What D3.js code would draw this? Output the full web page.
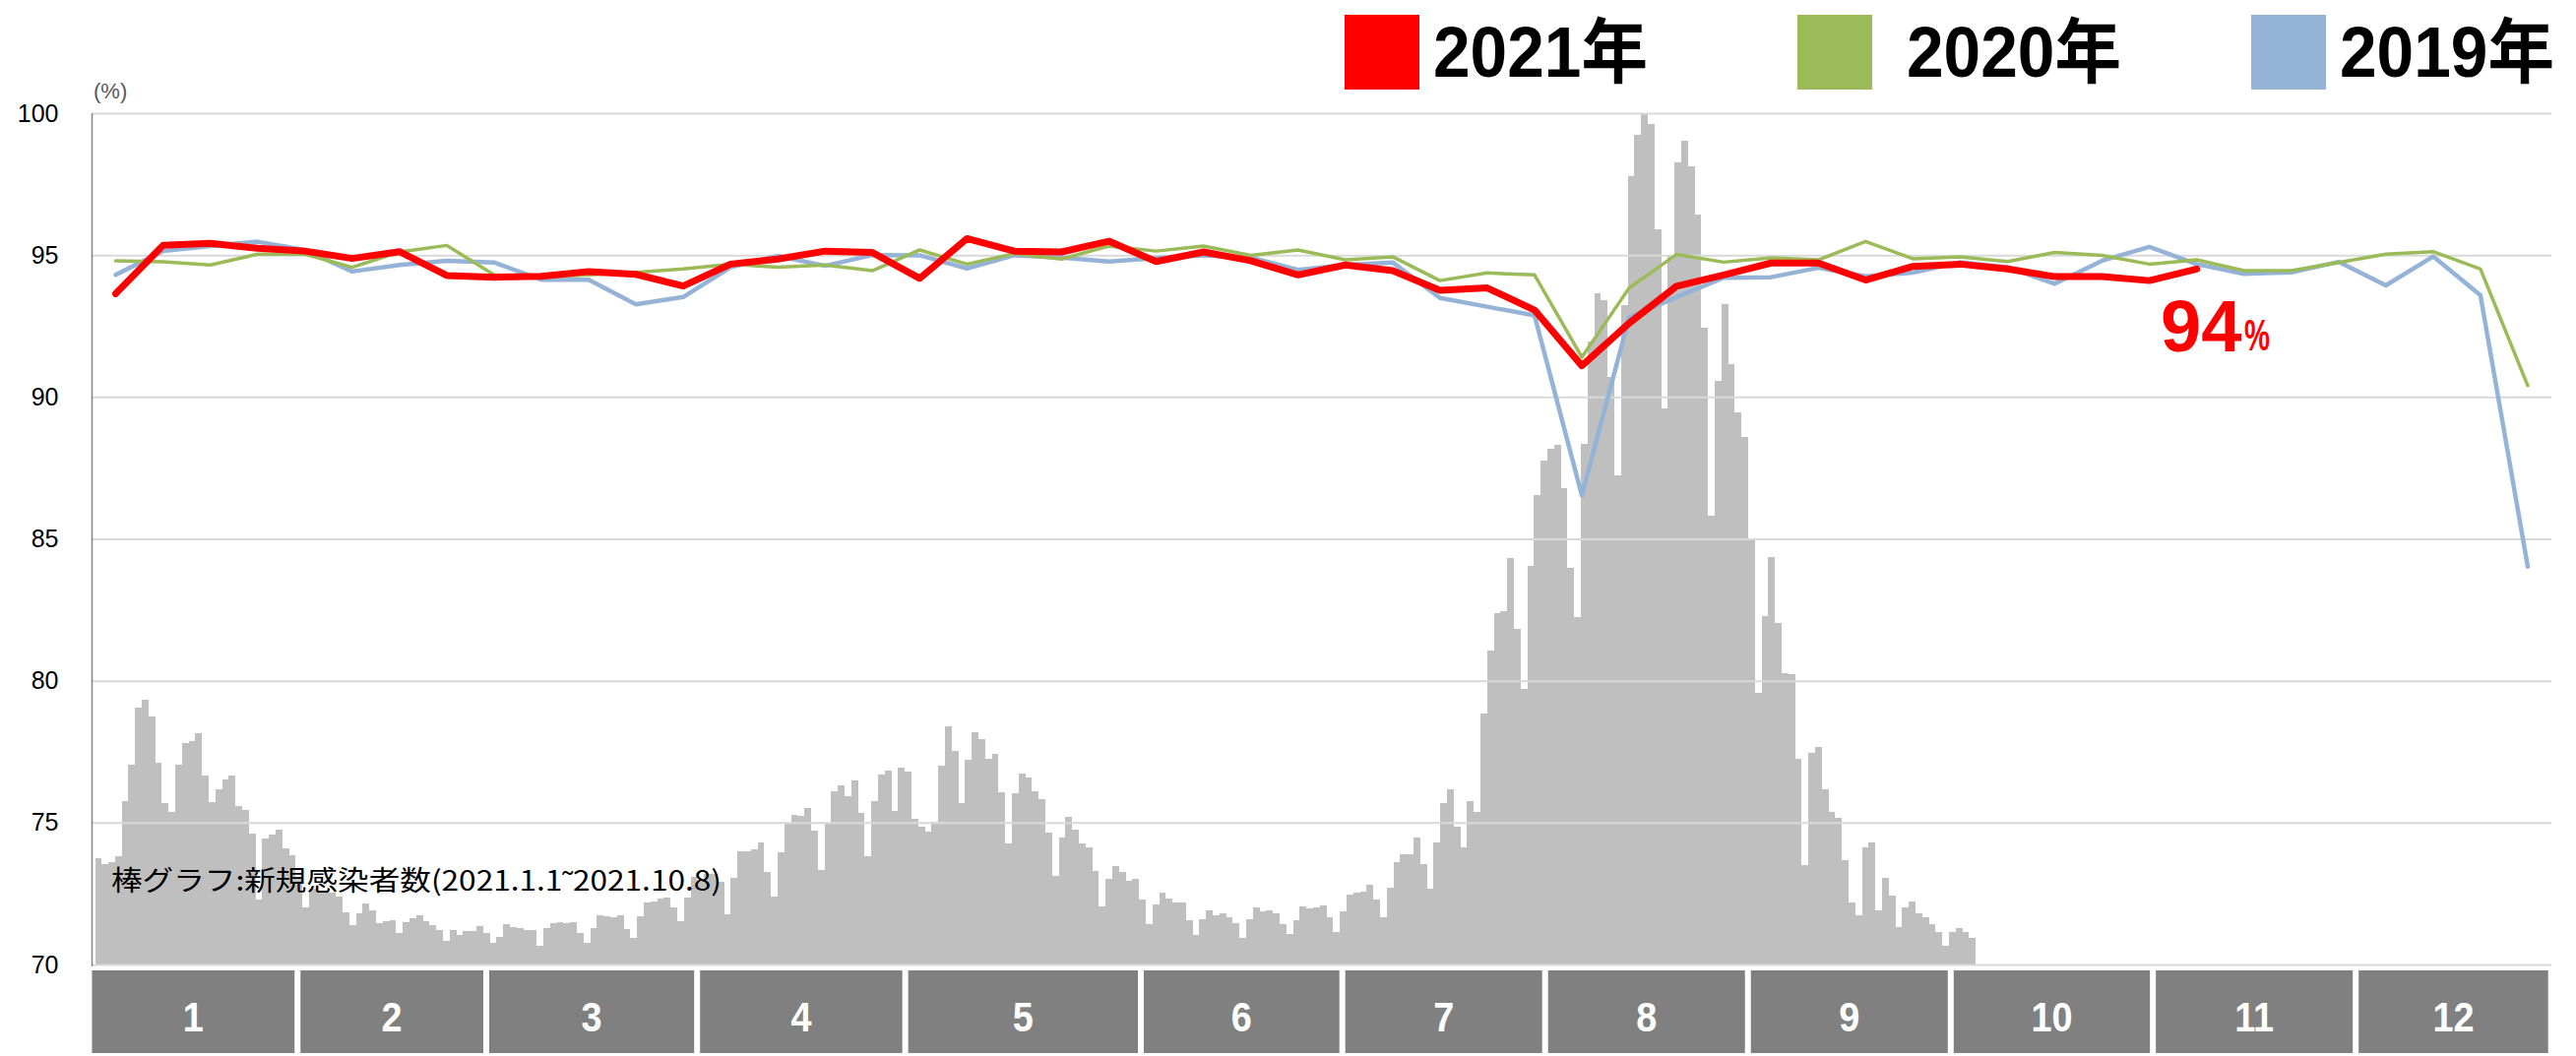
<!DOCTYPE html>
<html>
<head>
<meta charset="utf-8">
<script src="https://cdn.jsdelivr.net/npm/d3@7"></script>
<style>
  html, body { margin: 0; padding: 0; background: #fff; }
  svg { display: block; font-family: "Liberation Sans", Arial, "Noto Sans CJK JP", sans-serif; }
</style>
</head>
<body>
<svg id="chart" width="2617" height="1073"></svg>
<script>
// weekly occupancy rate (%), one point per week
const rate2021 = [93.64, 95.34, 95.41, 95.24, 95.14, 94.88, 95.12, 94.28, 94.22, 94.25, 94.42, 94.32, 93.91, 94.68, 94.86,
	95.14, 95.09, 94.18, 95.58, 95.14, 95.11, 95.49, 94.77, 95.11, 94.8, 94.3, 94.65, 94.45, 93.76, 93.84, 93.06, 91.1,
	92.6, 93.9, 94.3, 94.72, 94.72, 94.12, 94.6, 94.68, 94.51, 94.24, 94.24, 94.1, 94.51];
const rate2020 = [94.8, 94.76, 94.65, 95.03, 95.03, 94.57, 95.11, 95.34, 94.3, 94.22, 94.3, 94.39, 94.51, 94.68, 94.57,
	94.65, 94.45, 95.18, 94.68, 95.05, 94.86, 95.32, 95.14, 95.32, 94.99, 95.18, 94.83, 94.94, 94.1, 94.37, 94.3, 91.4,
	93.84, 95.02, 94.75, 94.9, 94.83, 95.48, 94.87, 94.94, 94.77, 95.09, 94.99, 94.68, 94.83, 94.45, 94.45, 94.74, 95.03,
	95.12, 94.51, 90.4];
const rate2019 = [94.3, 95.14, 95.32, 95.47, 95.18, 94.42, 94.65, 94.8, 94.74, 94.13, 94.13, 93.26, 93.52, 94.57, 94.97,
	94.62, 95.0, 94.99, 94.53, 94.99, 94.91, 94.77, 94.89, 94.99, 94.91, 94.48, 94.65, 94.74, 93.49, 93.18, 92.87, 86.53,
	92.8, 93.52, 94.2, 94.22, 94.55, 94.25, 94.38, 94.75, 94.57, 93.99, 94.8, 95.29, 94.68, 94.34, 94.39, 94.76, 93.93,
	94.95, 93.58, 84.02];

// daily new infections, 2021.1.1 - 2021.10.8
const newCases = [3259, 3059, 3120, 3293, 4983, 6110, 7843, 8086, 7566, 6153, 4931, 4645, 6110, 6760, 6812, 7055,
	5781, 4966, 5356, 5659, 5763, 4836, 4706, 3987, 1993, 3857, 3961, 4125, 3553, 3328, 2687,
	1751, 2305, 2253, 2236, 2201, 2080, 1603, 1205, 1551, 1872, 1655, 1274, 1335, 1352, 953, 1300, 1421, 1499, 1326,
	1205, 1049, 719, 1049, 901, 1023, 1023, 1170, 953,
	650, 849, 1222, 1153, 1101, 1049, 1049, 581, 1101, 1274, 1300, 1257, 1300, 953, 667, 1101, 1499, 1473, 1430, 1499,
	1083, 797, 1473, 1907, 1924, 2002, 2045, 1733, 1326, 2054, 2687,
	2600, 2773, 2773, 2513, 1525, 2635, 3449, 3449, 3510, 3727, 2834, 2071, 3441, 4290, 4559, 4533, 4793, 4091, 2886,
	4290, 5287, 5477, 5131, 5607, 4628, 3311, 4983, 5807, 5911, 4680,
	6015, 5893, 4455, 4212, 4056, 4359, 6058, 7263, 6509, 4940, 6249, 7081, 6890, 6292, 6439, 5261, 3683, 5243, 5833,
	5711, 5278, 5035, 4013, 2695, 3883, 4515, 4117, 3701, 3562, 2851, 1768,
	2617, 3016, 2817, 2565, 2617, 1985, 1231, 1846, 2184, 2011, 1898, 1898, 1343, 901, 1395, 1647, 1517, 1560, 1447,
	1265, 815, 1395, 1733, 1612, 1647, 1560, 1231, 945, 1343, 1768,
	1716, 1733, 1811, 1430, 979, 1612, 2149, 2201, 2236, 2435, 1985, 1447, 2349, 3120, 3363, 3380, 3865, 3068, 2314,
	3735, 4931, 5365, 4203, 3562, 4983, 4654, 7653, 9603, 10738, 10790, 12402,
	10235, 8407, 12159, 14326, 15375, 15739, 15860, 14560, 12125, 10625, 15895, 19032, 20497, 20297, 17940, 14941,
	20133, 24085, 25333, 26000, 25671, 22464, 16995, 21667, 24501, 25168, 24362, 22915, 19448, 13711, 17827,
	20159, 18330, 16857, 16111, 13026, 8285, 10651, 12437, 10435, 8901, 8857, 6283, 3033, 6448, 6647, 5347, 4654, 4481,
	3181, 1898, 1517, 3562, 3735, 1647, 2652, 2115, 1144, 1733, 1933, 1560, 1447, 1231, 979, 563, 979, 1101, 979, 815];

const yearLabels = ["2021年", "2020年", "2019年"];
const yearColors = ["#ff0000", "#9bbb59", "#95b3d7"];
const rateTicks = [70, 75, 80, 85, 90, 95, 100];
const monthLabels = ["1", "2", "3", "4", "5", "6", "7", "8", "9", "10", "11", "12"];
// where each month tile starts on the day axis (last entry = right end)
const monthEdgeDays = [-0.45, 30.7, 58.9, 90.4, 121.5, 156.7, 186.8, 217.1, 247.4, 277.7, 307.9, 338.2, 367.4];

const svg = d3.select("#chart");
const plotLeft = 93.5, plotRight = 2592, plotTop = 115, plotBottom = 980;

const xDay = d3.scaleLinear().domain([0, 367]).range([96.5, plotRight]);
const xWeek = d3.scalePoint().domain(d3.range(rate2020.length)).range([plotLeft, plotRight]).padding(0.5);
const yRate = d3.scaleLinear().domain([70, 100]).range([plotBottom, plotTop]);
const yCases = d3.scaleLinear().domain([0, 26000]).range([plotBottom, plotTop]);

// ------------ bars: new cases ------------
svg.append("g")
	.attr("shape-rendering", "crispEdges")
	.selectAll("rect")
	.data(newCases)
	.enter()
	.append("rect")
	.attr("x", (d, i) => xDay(i))
	.attr("width", (d, i) => xDay(i + 1) - xDay(i))
	.attr("y", (d) => yCases(d))
	.attr("height", (d) => plotBottom - yCases(d))
	.attr("fill", "#bfbfbf");

// gridlines (drawn over the bars, like the original)
svg.append("g")
	.attr("transform", `translate(${plotLeft},0)`)
	.call(d3.axisLeft(yRate).tickValues(rateTicks).tickSize(-(plotRight - plotLeft)).tickFormat(""))
	.call((g) => g.select(".domain").remove())
	.selectAll("line")
	.attr("stroke", "#d9d9d9")
	.attr("stroke-width", 2);

// y axis labels
svg.append("g")
	.attr("transform", `translate(${plotLeft},0)`)
	.call(d3.axisLeft(yRate).tickValues(rateTicks).tickSize(0).tickPadding(34))
	.call((g) => g.select(".domain").remove())
	.selectAll("text")
	.style("font", "25px 'Liberation Sans', Arial, sans-serif")
	.attr("fill", "#000");

svg.append("line")
	.attr("x1", plotLeft).attr("x2", plotLeft)
	.attr("y1", plotTop).attr("y2", plotBottom + 2)
	.attr("stroke", "#868686")
	.attr("stroke-width", 1.5);

svg.append("text")
	.attr("x", 95).attr("y", 100)
	.style("font-size", "22px")
	.attr("fill", "#595959")
	.text("(%)");

svg.append("text")
	.attr("x", 113).attr("y", 905)
	.attr("textLength", 620)
	.attr("lengthAdjust", "spacingAndGlyphs")
	.style("font", "28px 'Noto Sans CJK JP', sans-serif")
	.attr("fill", "#000")
	.text("棒グラフ:新規感染者数(2021.1.1˜2021.10.8)");

// ------------ weekly lines ------------
const line = d3.line().x((d, i) => xWeek(i)).y((d) => yRate(d));
const series = [
	{ values: rate2019, color: yearColors[2], width: 4.5 },
	{ values: rate2020, color: yearColors[1], width: 3.5 },
	{ values: rate2021, color: yearColors[0], width: 7 }
];
svg.append("g")
	.selectAll("path")
	.data(series)
	.enter()
	.append("path")
	.attr("fill", "none")
	.attr("stroke", (d) => d.color)
	.attr("stroke-width", (d) => d.width)
	.attr("stroke-linejoin", "round")
	.attr("stroke-linecap", "round")
	.attr("d", (d) => line(d.values));

// 94% note at the end of the 2021 line
svg.append("text")
	.attr("x", 2195).attr("y", 357)
	.style("font-size", "74px").style("font-weight", "bold")
	.attr("fill", "#ff0000")
	.text("94");
svg.append("text")
	.attr("x", 2280).attr("y", 356)
	.attr("textLength", 26).attr("lengthAdjust", "spacingAndGlyphs")
	.style("font-size", "44px").style("font-weight", "bold")
	.attr("fill", "#ff0000")
	.text("%");

// ------------ month tiles ------------
const months = svg.append("g");
monthLabels.forEach((m, i) => {
	const x0 = xDay(monthEdgeDays[i]);
	const x1 = xDay(monthEdgeDays[i + 1]) - 6;
	months.append("rect")
		.attr("x", x0).attr("y", 986)
		.attr("width", x1 - x0).attr("height", 84)
		.attr("fill", "#808080");
	months.append("text")
		.attr("transform", `translate(${(x0 + x1) / 2},1048) scale(0.88,1)`)
		.attr("text-anchor", "middle")
		.style("font-size", "43px").style("font-weight", "bold")
		.attr("fill", "#fff")
		.text(m);
});

// ------------ legend ------------
const legendPos = [
	{ box: 1366, text: 1456 },
	{ box: 1826, text: 1937 },
	{ box: 2287, text: 2377 }
];
const legend = svg.append("g");
yearLabels.forEach((label, i) => {
	legend.append("rect")
		.attr("x", legendPos[i].box).attr("y", 15)
		.attr("width", 76).attr("height", 76)
		.attr("fill", yearColors[i]);
	legend.append("text")
		.attr("x", legendPos[i].text).attr("y", 78)
		.attr("textLength", 218).attr("lengthAdjust", "spacingAndGlyphs")
		.style("font-size", "72px").style("font-weight", "bold")
		.attr("fill", "#000")
		.text(label);
});
</script>
</body>
</html>
